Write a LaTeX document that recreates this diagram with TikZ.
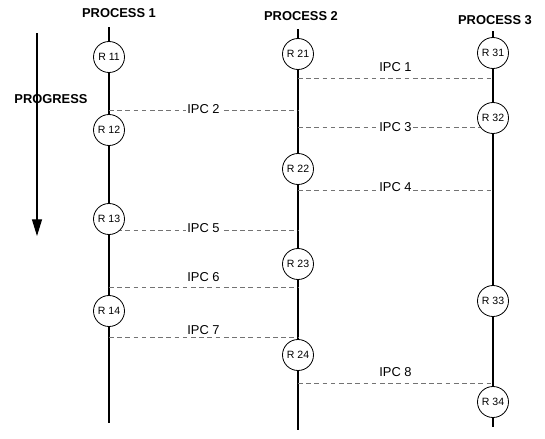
\documentclass[tikz,border=0pt]{standalone}
\usepackage{fontspec}
\setmainfont{Liberation Sans}
\usetikzlibrary{arrows.meta,calc}

\begin{document}
\begin{tikzpicture}[
    x=0.3mm, y=-0.3mm,
    proc/.style={line width=0.9pt, black},
    rnode/.style={circle, draw, line width=0.7pt, fill=white,
        minimum size=9.3mm, inner sep=0pt, font=\fontsize{9}{10}\selectfont},
    ipcline/.style={black!55, line width=0.5pt, dash pattern=on 4pt off 3pt},
    ipclbl/.style={font=\fontsize{11}{13}\selectfont, fill=white, inner sep=1.5pt},
    head/.style={font=\bfseries\fontsize{11}{13}\selectfont},
]
\useasboundingbox (0,0) rectangle (545,438);

% process lines: number / line x / top / bottom / head x / head y
\foreach \p/\x/\t/\b/\hx/\hy in {1/109/27/423/119/13, 2/298/29/430/301/16, 3/493/31/427/495/20} {
    \node[head] (head\p) at (\hx,\hy) {PROCESS \p};
    \coordinate (top\p) at (\x,\t);
    \coordinate (bot\p) at (\x,\b);
    \draw[proc] (top\p) -- (bot\p);
}

% progress arrow
\coordinate (progtop) at (37,33);
\coordinate (progtip) at (37,236);
\draw[line width=1pt, -{Triangle[length=5mm, width=3mm]}] (progtop) -- (progtip);
\node[head] (prog) at (51,99) {PROGRESS};

% ipc messages: number / from / to / y / label offset
\foreach \n/\a/\b/\y/\dy in {1/2/3/78/-11, 2/1/2/110/-1, 3/2/3/127/0, 4/2/3/190/-3,
        5/1/2/230/-2, 6/1/2/287/-10, 7/1/2/337/-7, 8/2/3/383/-11} {
    \coordinate (ipcs\n) at (top\a |- 0,\y);
    \coordinate (ipce\n) at (top\b |- 0,\y);
    \draw[ipcline] (ipcs\n) -- (ipce\n);
    \node[ipclbl] (ipc\n) at ($(ipcs\n)!0.5!(ipce\n) + (0,\dy)$) {IPC \n};
}

% regions on each process: process / region / y
\foreach \p/\r/\y in {1/1/57, 1/2/130, 1/3/219, 1/4/311,
        2/1/54, 2/2/169, 2/3/264, 2/4/355,
        3/1/53, 3/2/118, 3/3/301, 3/4/402} {
    \node[rnode] (r\p\r) at (top\p |- 0,\y) {R \p\r};
}

\end{tikzpicture}
\end{document}
